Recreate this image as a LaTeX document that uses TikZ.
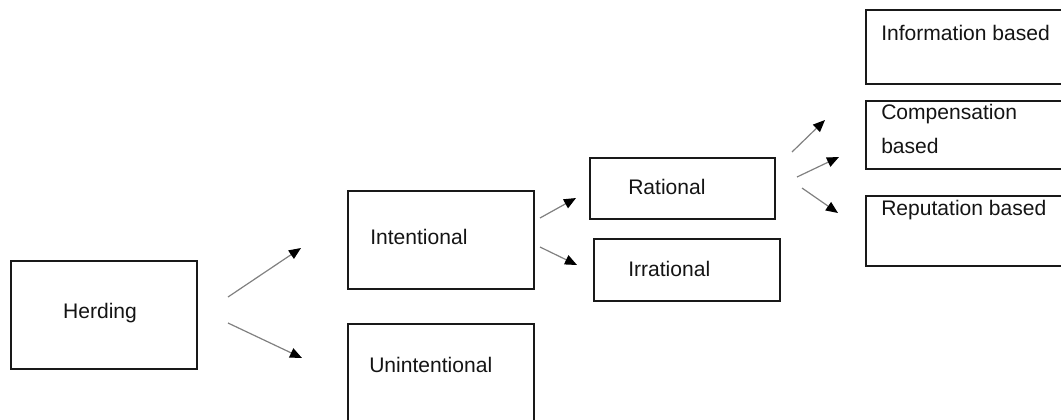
\documentclass[tikz,border=0pt]{standalone}
\usepackage{fontspec}
\setmainfont{Liberation Sans}
\usetikzlibrary{arrows.meta}
\tikzset{
  box/.style={draw=black!90, line width=1.5pt, rectangle, inner sep=0pt, anchor=north west},
  lbl/.style={inner sep=0pt, anchor=base west, font=\fontsize{15.8pt}{25.5pt}\selectfont, text=black!92},
  arr/.style={draw=black!50, line width=0.9pt, -{Triangle[length=9pt,width=7.5pt,color=black]}}
}
\begin{document}
\begin{tikzpicture}[x=0.75pt,y=-0.75pt]
\useasboundingbox (0,0) rectangle (1061,419);
\clip (0,0) rectangle (1061,419);
% boxes
\node[box, minimum width=139.5pt, minimum height=81pt] (herd) at (10,260) {};
\node[box, minimum width=139.5pt, minimum height=73.5pt] (int) at (347,190) {};
\node[box, minimum width=139.5pt, minimum height=80.25pt] (unint) at (347,323) {};
\node[box, minimum width=138.75pt, minimum height=45.75pt] (rat) at (589,157) {};
\node[box, minimum width=139.5pt, minimum height=46.5pt] (irr) at (593,238) {};
\node[box, minimum width=161.25pt, minimum height=55.5pt] (info) at (865,9) {};
\node[box, minimum width=161.25pt, minimum height=51pt] (comp) at (865,100) {};
\node[box, minimum width=161.25pt, minimum height=52.5pt] (rep) at (865,195) {};
% texts
\node[lbl, anchor=base] (herdt) at (100,318) {Herding};
\node[lbl] (intt) at (370,244) {Intentional};
\node[lbl] (unintt) at (369,372) {Unintentional};
\node[lbl] (ratt) at (628,194) {Rational};
\node[lbl] (irrt) at (628,276) {Irrational};
\node[lbl] (infot) at (881,40) {Information based};
\node[lbl, align=left, anchor=north west] (compt) at (881,104) {Compensation\\based};
\node[lbl] (rept) at (881,215) {Reputation based};
% arrow end points
\coordinate (h1s) at (228,297); \coordinate (h1e) at (301,248);
\coordinate (h2s) at (228,323); \coordinate (h2e) at (302,358);
\coordinate (i1s) at (540,218); \coordinate (i1e) at (576,198);
\coordinate (i2s) at (540,247); \coordinate (i2e) at (577,265);
\coordinate (r1s) at (792,152); \coordinate (r1e) at (825,120);
\coordinate (r2s) at (797,177); \coordinate (r2e) at (839,157);
\coordinate (r3s) at (802,188); \coordinate (r3e) at (838,213);
\draw[arr] (h1s) -- (h1e);
\draw[arr] (h2s) -- (h2e);
\draw[arr] (i1s) -- (i1e);
\draw[arr] (i2s) -- (i2e);
\draw[arr] (r1s) -- (r1e);
\draw[arr] (r2s) -- (r2e);
\draw[arr] (r3s) -- (r3e);
\end{tikzpicture}
\end{document}
